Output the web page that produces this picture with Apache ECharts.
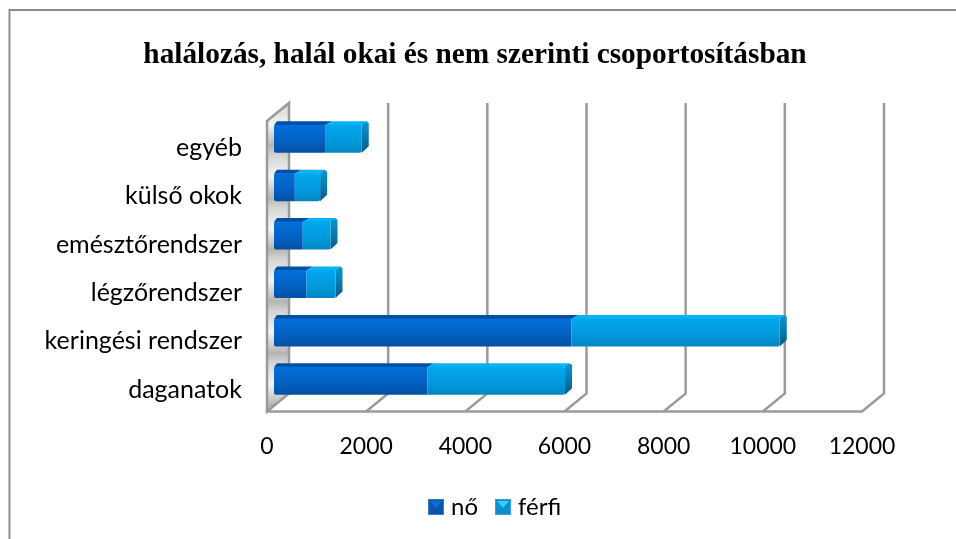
<!DOCTYPE html>
<html>
<head>
<meta charset="utf-8">
<title>halálozás</title>
<script src="https://cdn.jsdelivr.net/npm/echarts@6/dist/echarts.min.js"></script>
<style>
  html, body { margin: 0; padding: 0; background: #fff; }
  #chart { width: 956px; height: 539px; }
</style>
</head>
<body>
<div id="chart"></div>
<script>
// adatok
const categories = ["egyéb", "külső okok", "emésztőrendszer", "légzőrendszer", "keringési rendszer", "daganatok"];
const noValues = [1030, 420, 580, 650, 6000, 3090];
const ferfiValues = [740, 510, 560, 590, 4200, 2780];
const tickValues = [0, 2000, 4000, 6000, 8000, 10000, 12000];

// a "3D" hatás eltolásai, pixelben
const wallDx = 22, wallDy = -18;
const barDx = 7, barDy = -6.5;
const barHeight = 28;
const topBand = 3.5;

const grey = "#9a9a9a";
const vgrad = (stops) => new echarts.graphic.LinearGradient(0, 0, 0, 1, stops.map((c) => ({ offset: c[0], color: c[1] })));

const noStyle = {
  front: vgrad([[0, "#056ed8"], [0.55, "#0262c6"], [1, "#0350a2"]]),
  top: "#034ea6",
  side: "#034a94"
};
const ferfiStyle = {
  front: vgrad([[0, "#04a6ec"], [0.6, "#0299dc"], [1, "#0486c0"]]),
  top: "#05b4f2",
  side: vgrad([[0, "#0a96d4"], [0.55, "#0878ab"], [1, "#045a85"]])
};

// jelmagyarázat ikonok: felül világosabb háromszög
const legendIcon = (edge, upper, lower) => "image://data:image/svg+xml," + encodeURIComponent(
  '<svg xmlns="http://www.w3.org/2000/svg" width="16" height="16">' +
  '<rect width="16" height="16" fill="' + lower + '"/>' +
  '<polygon points="2,2 14,2 8,9" fill="' + upper + '"/>' +
  '<rect x="0.5" y="0.5" width="15" height="15" fill="none" stroke="' + edge + '"/></svg>');

// egy hasáb: elülső lap, teteje, jobb vége
function barItem(params, api, style, isLast) {
  const catIdx = api.value(0);
  const start = api.coord([api.value(1), catIdx]);
  const end = api.coord([api.value(2), catIdx]);
  const x0 = start[0] + barDx, x1 = end[0] + barDx;
  const yTop = start[1] + barDy - barHeight / 2, yBot = yTop + barHeight;
  const isFirst = api.value(1) === 0;
  const backX0 = isFirst ? x0 + 3 : x0 + barDx;
  const children = [
    { type: "polygon", shape: { points: [[x0, yTop + 0.5], [backX0, yTop - topBand], [x1 + barDx - (isLast ? 2 : 0), yTop - topBand], [x1, yTop + 0.5]] }, style: { fill: style.top } }
  ];
  if (isLast) {
    children.push({ type: "polygon", shape: { points: [[x1, yTop], [x1 + barDx - 2, yTop - topBand], [x1 + barDx, yTop - topBand + 2], [x1 + barDx, yBot + barDy], [x1, yBot]] }, style: { fill: style.side } });
  }
  children.push({ type: "rect", shape: { x: x0, y: yTop, width: x1 - x0, height: yBot - yTop, r: isLast ? [0, 2, 2, 0] : [2, 0, 0, 2] }, style: { fill: style.front } });
  return { type: "group", children };
}

// bal oldalfal
function wallItem(params) {
  const g = params.coordSys;
  const x = g.x, top = g.y, bot = g.y + g.height;
  const stops = [];
  const n = categories.length;
  for (let i = 0; i < n; i++) {
    stops.push({ offset: (i + 0.03) / n, color: "#d4d4d4" });
    stops.push({ offset: (i + 0.45) / n, color: "#f5f5f5" });
    stops.push({ offset: (i + 0.85) / n, color: "#b4b4b4" });
  }
  return {
    type: "polygon",
    shape: { points: [[x, top], [x + wallDx, top + wallDy], [x + wallDx, bot + wallDy], [x, bot]] },
    style: { fill: new echarts.graphic.LinearGradient(0, 0, 0, 1, stops), stroke: grey, lineWidth: 2.5 }
  };
}

// rácsvonalak: padló és hátsó fal
function gridItem(params, api) {
  const g = params.coordSys;
  const x = api.coord([api.value(0), 0])[0];
  const top = g.y, bot = g.y + g.height;
  return {
    type: "polyline",
    shape: { points: [[x, bot], [x + wallDx, bot + wallDy], [x + wallDx, top + wallDy]] },
    style: { fill: "none", stroke: grey, lineWidth: 2.5 }
  };
}

// halmozás: [kategória, kezdet, vég]
const noData = categories.map((c, i) => [i, 0, noValues[i]]);
const ferfiData = categories.map((c, i) => [i, noValues[i], noValues[i] + ferfiValues[i]]);

const chart = echarts.init(document.getElementById("chart"));
chart.setOption({
  animation: false,
  backgroundColor: "#fff",
  title: {
    text: "halálozás, halál okai és nem szerinti csoportosításban",
    left: 470, top: 36, textAlign: "center",
    textStyle: { fontFamily: "Liberation Serif", fontWeight: "bold", fontSize: 29.3, color: "#000" }
  },
  graphic: [
    { type: "polyline", shape: { points: [[9.5, 539], [9.5, 10], [956, 10]] }, style: { fill: "none", stroke: "#8c8c8c", lineWidth: 2 }, silent: true }
  ],
  grid: { left: 267, right: 94, top: 121, bottom: 127.5 },
  xAxis: {
    type: "value", min: 0, max: 12000, interval: 2000,
    splitLine: { show: false },
    axisTick: { show: false },
    axisLine: { show: true, lineStyle: { color: grey, width: 2.5 } },
    axisLabel: { margin: 24, color: "#000", fontFamily: "Lato", fontSize: 23, formatter: (v) => String(v) }
  },
  yAxis: {
    type: "category", data: categories, inverse: true,
    axisTick: { show: false },
    axisLine: { show: false },
    axisLabel: {
      margin: 25, formatter: "{a|{value}}",
      rich: { a: { color: "#000", fontFamily: "Lato", fontSize: 25, padding: [5, 0, 0, 0] } }
    }
  },
  legend: {
    left: 428, top: 495, padding: 0, itemWidth: 16, itemHeight: 16, itemGap: 17,
    data: [
      { name: "nő", icon: legendIcon("#3a7fbf", "#0d6fd6", "#0a55a8") },
      { name: "férfi", icon: legendIcon("#3aa0cf", "#2fd0ff", "#0f8fca") }
    ],
    textStyle: { fontFamily: "Lato", fontSize: 24, color: "#000", padding: [0, 0, 0, 2] }
  },
  series: [
    { type: "custom", silent: true, z: 1, data: [[0]], renderItem: wallItem, encode: { x: 0 } },
    { type: "custom", silent: true, z: 1, data: tickValues.slice(1).map((v) => [v]), renderItem: gridItem, encode: { x: 0 } },
    { name: "nő", type: "custom", z: 3, data: noData, encode: { y: 0, x: [1, 2] },
      itemStyle: { color: "#0562c4" }, renderItem: (p, a) => barItem(p, a, noStyle, false) },
    { name: "férfi", type: "custom", z: 3, data: ferfiData, encode: { y: 0, x: [1, 2] },
      itemStyle: { color: "#0aa5ea" }, renderItem: (p, a) => barItem(p, a, ferfiStyle, true) }
  ]
});
</script>
</body>
</html>
